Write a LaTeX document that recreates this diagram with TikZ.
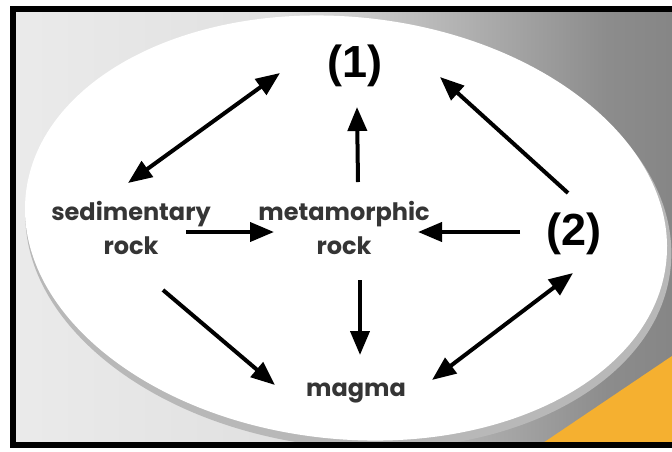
\documentclass[tikz,border=0pt]{standalone}
\usepackage{fontspec}
\newfontfamily\lblfont{Poppins}
\newfontfamily\numfont{Liberation Sans}
\usepackage{xcolor}
\usetikzlibrary{arrows.meta}
\definecolor{textgray}{HTML}{353535}
\definecolor{cornerorange}{HTML}{F5B030}
\pgfdeclarehorizontalshading{backdrop}{100bp}{color(0bp)=(black!3); color(45bp)=(black!12); color(70bp)=(black!45); color(100bp)=(black!60)}

\begin{document}
\begin{tikzpicture}[x=1pt, y=-1pt,
  rocklbl/.style={text=textgray, align=center, inner sep=0pt, font=\lblfont\bfseries\fontsize{24}{34}\selectfont},
  numlbl/.style={text=black, inner sep=0pt, font=\numfont\bfseries\fontsize{45}{45}\selectfont},
  arrow/.style={line width=4pt, -{Triangle[length=24pt, width=19pt]}},
  dblarrow/.style={line width=4pt, {Triangle[length=24pt, width=19pt]}-{Triangle[length=24pt, width=19pt]}}
]
\useasboundingbox (0,0) rectangle (672,451);

% backdrop with the white plate
\begin{scope}
\clip (13,9) rectangle (672,445);
\shade[shading=backdrop] (13,9) rectangle (672,445);
\fill[cornerorange] (540,445) -- (672,356) -- (672,445) -- cycle;
\fill[black!28, rotate around={-6:(346,228)}] (349,234) ellipse [x radius=324, y radius=213];
\fill[white, rotate around={-6:(346,228)}] (346,228) ellipse [x radius=322, y radius=211];
\end{scope}
\draw[line width=6pt] (672,9) -- (13,9) -- (13,445) -- (672,445);

\node[numlbl] (n1) at (355,66) {(1)};
\node[numlbl] (n2) at (574,234) {(2)};
\node[rocklbl] (sed) at (131,228) {sedimentary\\rock};
\node[rocklbl] (meta) at (344,228) {metamorphic\\rock};
\node[rocklbl] (magma) at (356,393) {magma};

\draw[dblarrow] ([shift={(-3,-45)}]sed.center) -- ([shift={(-75,7)}]n1.center);
\draw[arrow] ([shift={(55,4)}]sed.center) -- ([shift={(-70,4)}]meta.center);
\draw[arrow] ([shift={(14,-46)}]meta.center) -- ([shift={(2,41)}]n1.center);
\draw[arrow] ([shift={(-54,-2)}]n2.center) -- ([shift={(74,4)}]meta.center);
\draw[arrow] ([shift={(-6,-41)}]n2.center) -- ([shift={(85,11)}]n1.center);
\draw[arrow] ([shift={(16,52)}]meta.center) -- ([shift={(4,-38)}]magma.center);
\draw[arrow] ([shift={(32,62)}]sed.center) -- ([shift={(-81,-8)}]magma.center);
\draw[dblarrow] ([shift={(76,-13)}]magma.center) -- ([shift={(-1,39)}]n2.center);
\end{tikzpicture}
\end{document}
